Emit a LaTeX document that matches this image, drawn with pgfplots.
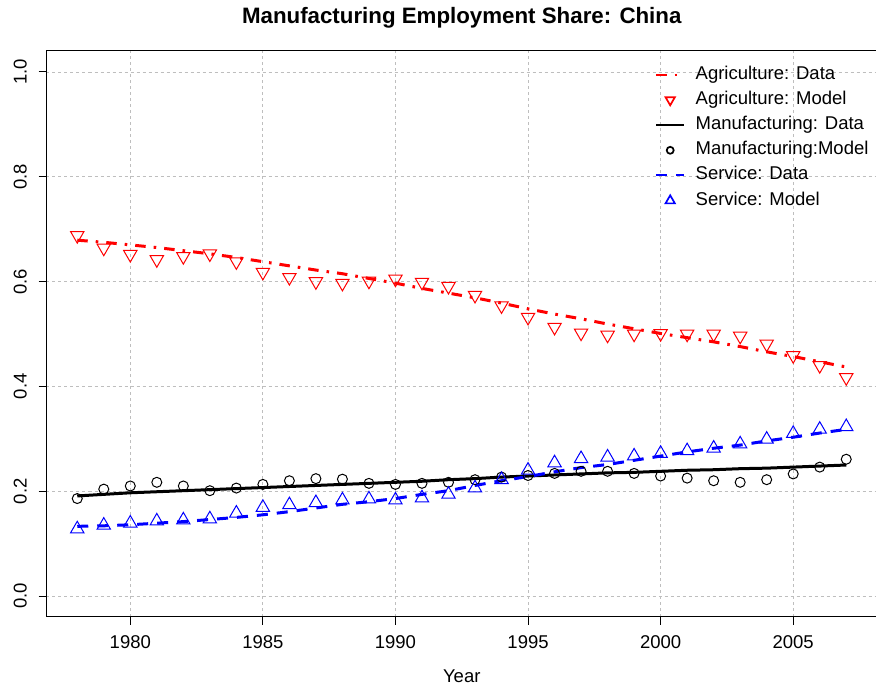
\documentclass[border=0pt]{standalone}
\usepackage{pgfplots}
\usepackage{pgfplotstable}
\pgfplotsset{compat=1.18}
\usepackage{fontspec}
\setmainfont{Liberation Sans}

\definecolor{gridgray}{RGB}{190,190,190}

% Employment shares by sector: data (smoothed) and model predictions
\pgfplotstableread{
year agd   agm   mfd   mfm   svd   svm
1978 0.679 0.688 0.191 0.186 0.133 0.128
1979 0.675 0.664 0.194 0.204 0.134 0.135
1980 0.670 0.652 0.197 0.210 0.136 0.139
1981 0.665 0.642 0.199 0.217 0.139 0.143
1982 0.659 0.648 0.201 0.210 0.142 0.145
1983 0.653 0.653 0.203 0.201 0.146 0.147
1984 0.646 0.638 0.205 0.206 0.150 0.158
1985 0.638 0.618 0.207 0.213 0.155 0.169
1986 0.630 0.608 0.209 0.220 0.161 0.174
1987 0.622 0.600 0.211 0.224 0.168 0.178
1988 0.615 0.597 0.213 0.223 0.175 0.183
1989 0.606 0.601 0.215 0.215 0.180 0.185
1990 0.597 0.605 0.217 0.213 0.186 0.183
1991 0.587 0.599 0.219 0.215 0.194 0.187
1992 0.578 0.591 0.222 0.217 0.201 0.194
1993 0.569 0.574 0.224 0.222 0.211 0.206
1994 0.559 0.554 0.227 0.227 0.220 0.222
1995 0.548 0.532 0.229 0.230 0.228 0.240
1996 0.538 0.513 0.231 0.234 0.237 0.254
1997 0.529 0.502 0.233 0.238 0.245 0.262
1998 0.519 0.498 0.235 0.238 0.251 0.265
1999 0.510 0.500 0.236 0.234 0.259 0.267
2000 0.501 0.501 0.238 0.229 0.267 0.272
2001 0.493 0.500 0.240 0.225 0.275 0.277
2002 0.485 0.500 0.241 0.220 0.282 0.282
2003 0.476 0.496 0.243 0.217 0.288 0.290
2004 0.466 0.481 0.244 0.222 0.296 0.299
2005 0.457 0.459 0.246 0.233 0.303 0.310
2006 0.447 0.440 0.248 0.246 0.311 0.318
2007 0.437 0.417 0.250 0.261 0.318 0.323
}\sharetab

\begin{document}
\begin{tikzpicture}
\begin{axis}[
  name=ax,
  scale only axis,
  width=830.5pt, height=566pt,
  xmin=1976.84, xmax=2008.16,
  ymin=-0.04, ymax=1.04,
  font=\fontsize{18.5}{22}\selectfont,
  /pgf/number format/assume math mode=true,
  xtick={1980,1985,1990,1995,2000,2005},
  xticklabels={1980,1985,1990,1995,2000,2005},
  ytick={0,0.2,0.4,0.6,0.8,1.0},
  yticklabels={0.0,0.2,0.4,0.6,0.8,1.0},
  xtick pos=left, ytick pos=left,
  tick align=outside,
  major tick length=8pt,
  every tick/.style={black, line width=1pt},
  axis line style={black, line width=1pt},
  grid=major,
  major grid style={gridgray, line width=0.8pt, dash pattern=on 3pt off 3pt},
  xticklabel style={anchor=north, inner sep=0pt, font=\fontsize{18.5}{22}\selectfont},
  yticklabel style={rotate=90, anchor=south, inner sep=0pt, font=\fontsize{18.5}{22}\selectfont},
  xticklabel shift=10pt,
  yticklabel shift=11.5pt,
  title={Manufacturing Employment Share: China},
  title style={font=\bfseries\fontsize{22.3}{27}\selectfont, at={(axis description cs:0.5,1)}, anchor=base, yshift=21pt, inner sep=0pt},
  xlabel={Year},
  xlabel style={at={(axis description cs:0.5,0)}, anchor=base, yshift=-65.5pt, inner sep=0pt},
  legend cell align=left,
  legend style={at={(0.7327,0.9735)}, anchor=north west, draw=none, fill=none,
    inner sep=0pt, row sep=8.2pt,
    nodes={inner sep=0pt, text height=13pt, text depth=4pt},
    font=\fontsize{18.5}{22}\selectfont},
  legend image code/.code={%
    \draw[mark repeat=2, mark phase=2, #1, line width=2pt,
          every mark/.append style={scale=0.7, line width=1.7pt}]
      plot coordinates {(0pt,0pt) (14pt,0pt) (28pt,0pt)};
    \path (38pt,0pt);},
]
\addplot[red, line width=3pt, dash pattern=on 10.5pt off 8pt on 2.6pt off 8pt]
  table[x=year, y=agd] {\sharetab};
\addlegendentry{Agriculture: Data}
\addplot[red, only marks, mark=triangle, mark size=7.7pt,
  mark options={solid, line width=1pt, rotate=180}]
  table[x=year, y=agm] {\sharetab};
\addlegendentry{Agriculture: Model}
\addplot[black, line width=3pt]
  table[x=year, y=mfd] {\sharetab};
\addlegendentry{Manufacturing: Data}
\addplot[black, only marks, mark=o, mark size=5pt,
  mark options={solid, line width=1pt}]
  table[x=year, y=mfm] {\sharetab};
\addlegendentry{Manufacturing:Model}
\addplot[blue, line width=3pt, dash pattern=on 11pt off 9pt]
  table[x=year, y=svd] {\sharetab};
\addlegendentry{Service: Data}
\addplot[blue, only marks, mark=triangle, mark size=7.7pt,
  mark options={solid, line width=1pt}]
  table[x=year, y=svm] {\sharetab};
\addlegendentry{Service: Model}
\end{axis}
\pgfresetboundingbox
\path[use as bounding box] ([shift={(-46.5pt,-68pt)}]ax.south west) rectangle ++(876pt,685pt);
\end{tikzpicture}
\end{document}
